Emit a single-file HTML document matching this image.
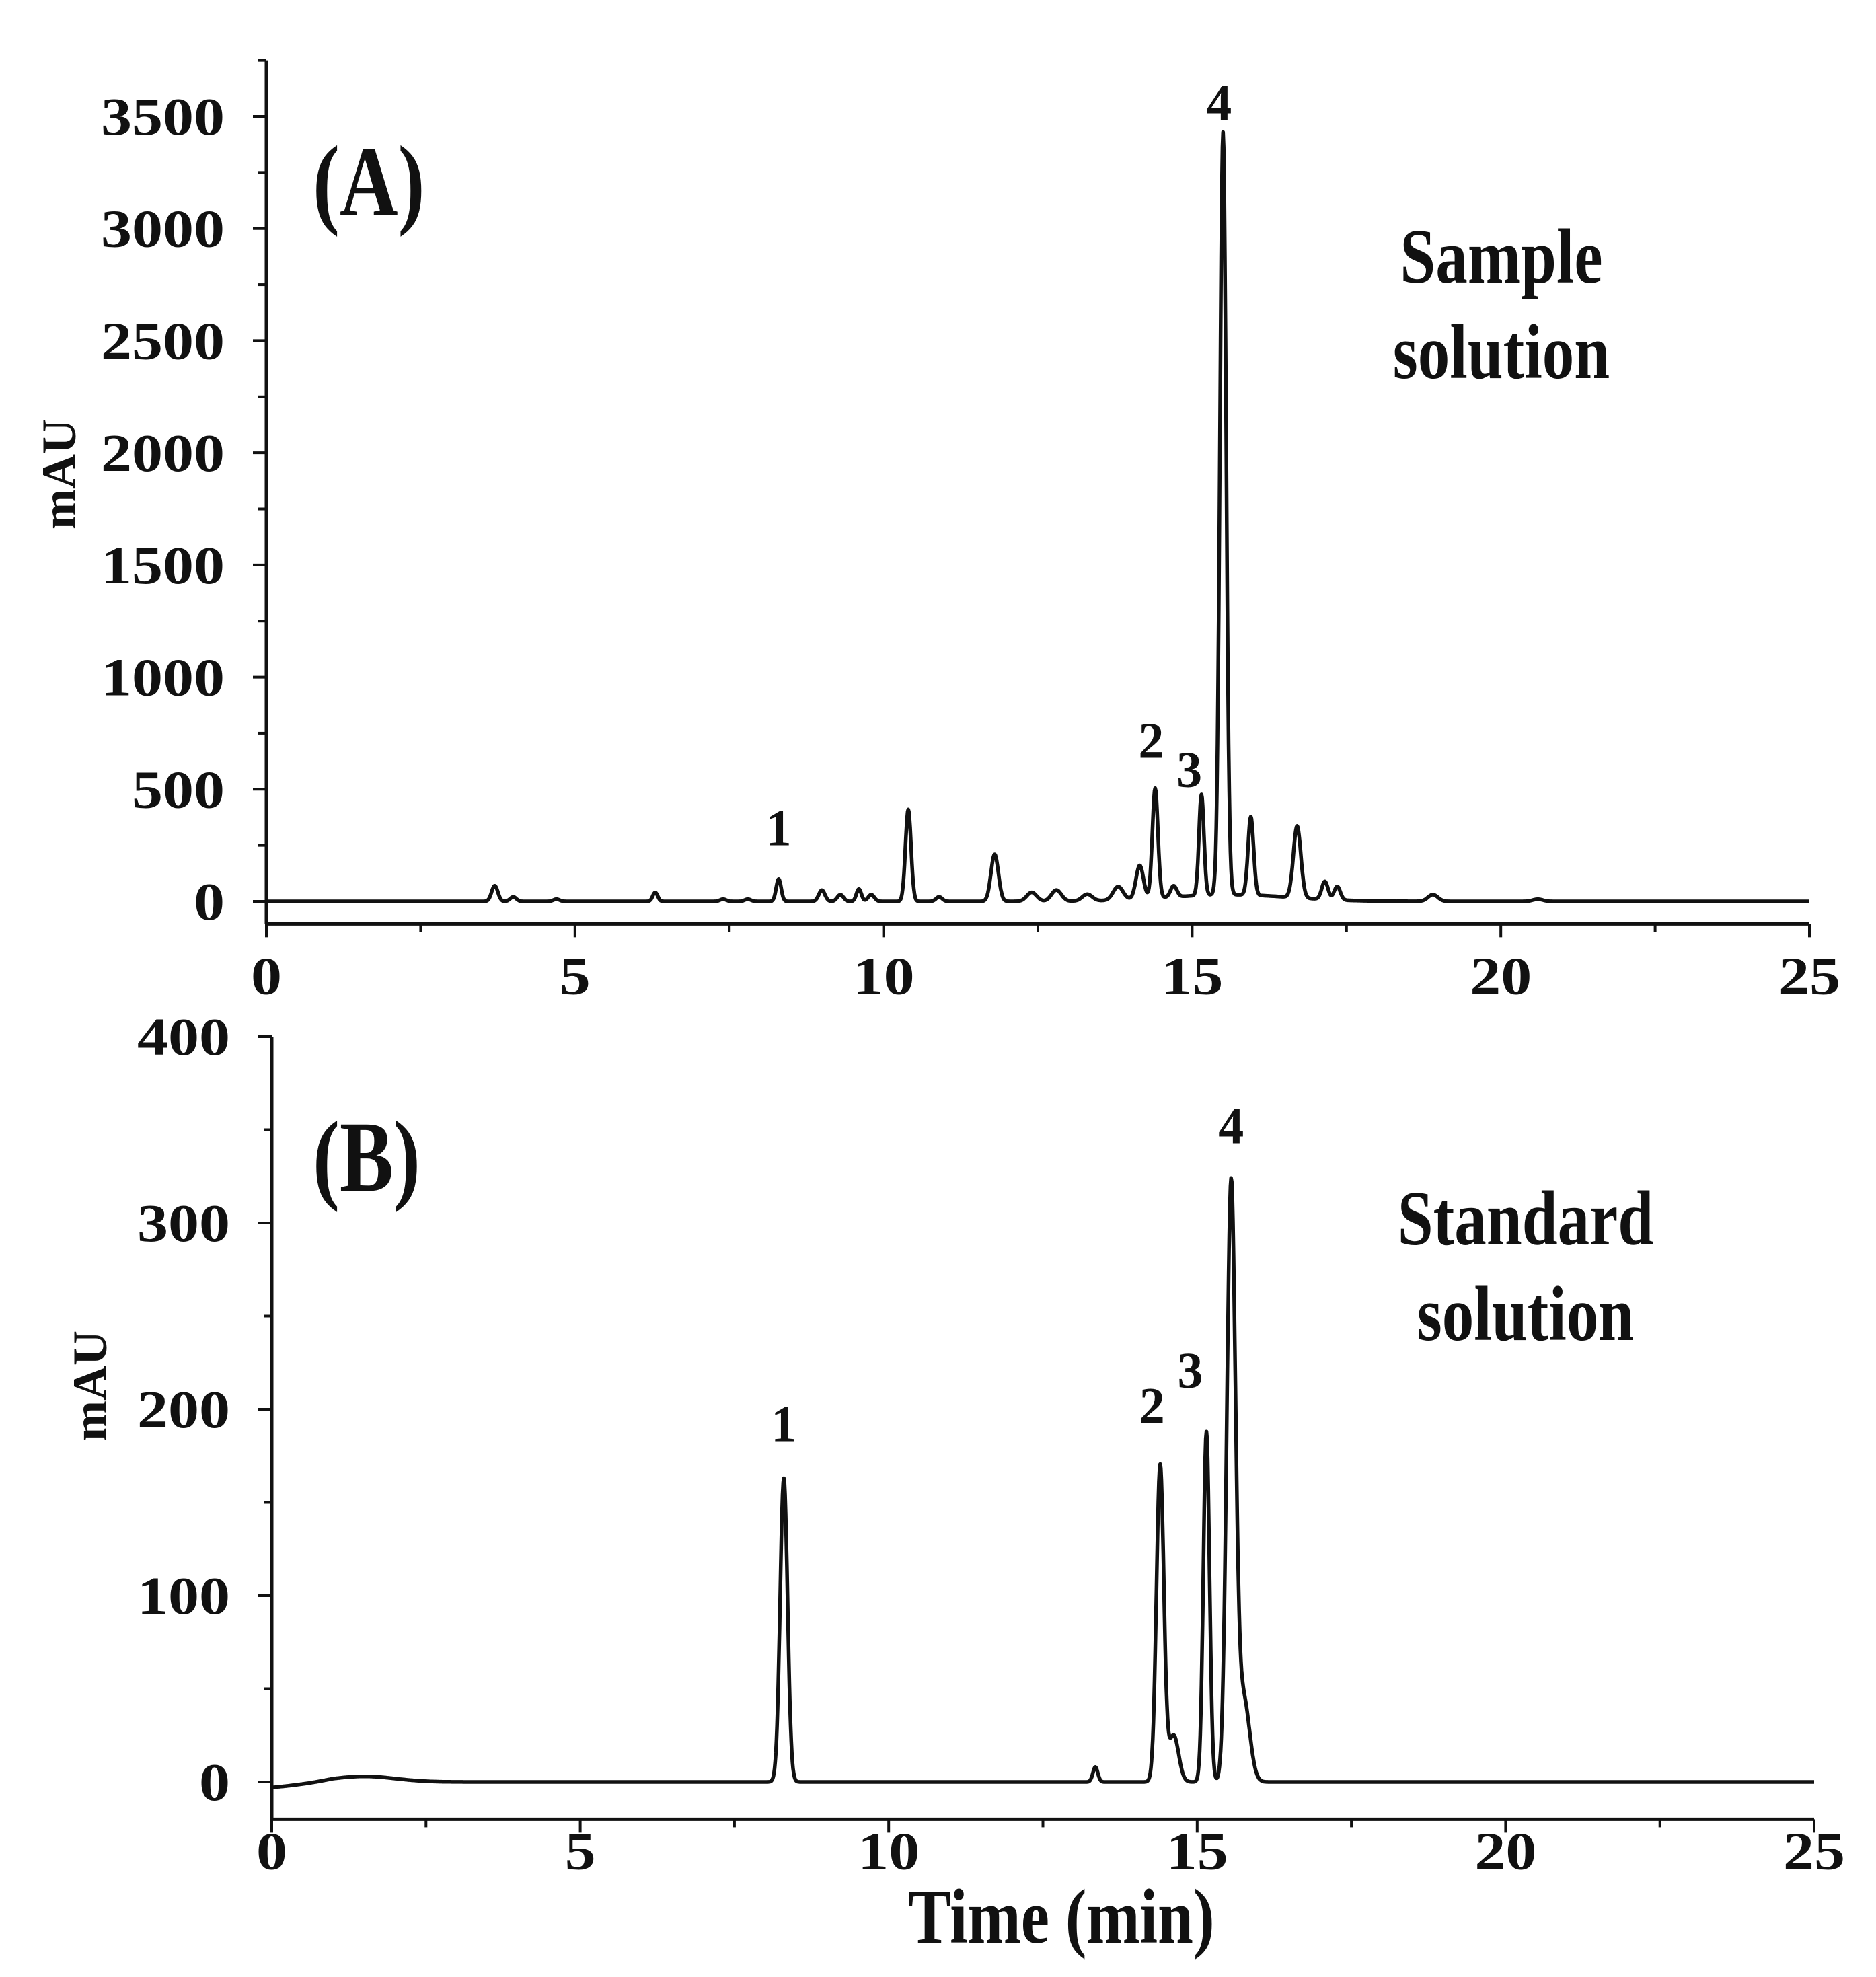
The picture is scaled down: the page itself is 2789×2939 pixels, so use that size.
<!DOCTYPE html>
<html><head><meta charset="utf-8"><style>
body{margin:0;background:#fff}
svg text{font-family:"Liberation Serif",serif;font-weight:bold;fill:#111}
</style></head><body>
<svg id="fig" width="2789" height="2934" viewBox="0 0 2789 2934" xmlns="http://www.w3.org/2000/svg">
<g id="pA"></g>
<g id="pB"></g>
</svg>
<script>
const xTicks=[0,5,10,15,20,25];
const yTicksA=[0,500,1000,1500,2000,2500,3000,3500];
const yTicksB=[0,100,200,300,400];
const peakTimesA=[3.7,4.0,4.7,6.3,7.4,7.8,8.3,9.0,9.3,9.6,9.8,10.4,10.9,11.8,12.4,12.8,13.3,13.8,14.15,14.4,14.7,15.15,15.5,15.95,16.7,17.15,17.35,18.9,20.6,15.6];
const peakHeightsA=[70,20,10,40,10,10,100,50,30,55,30,410,20,210,40,50,30,60,150,490,50,450,3400,350,320,80,60,30,10,30];
const peakWidthsA=[0.05,0.05,0.05,0.04,0.05,0.05,0.04,0.05,0.05,0.04,0.05,0.045,0.05,0.06,0.08,0.08,0.08,0.08,0.06,0.045,0.05,0.04,0.05,0.045,0.06,0.05,0.05,0.08,0.08,1.0];
const peakTimesB=[1.5,8.3,13.35,14.4,14.62,15.15,15.55,15.75];
const peakHeightsB=[3,163,8,170,25,188,318,45];
const peakWidthsB=[0.5,0.06,0.04,0.06,0.08,0.05,0.07,0.1];
const labelsA=[{t:8.3,v:100,s:"1"},{t:14.4,v:490,s:"2"},{t:15.15,v:450,s:"3"},{t:15.5,v:3400,s:"4"}];
const labelsB=[{t:8.3,v:163,s:"1"},{t:14.4,v:173,s:"2"},{t:15.15,v:188,s:"3"},{t:15.55,v:323,s:"4"}];

const NS="http://www.w3.org/2000/svg";
function mk(parent,tag,attrs,text){const e=document.createElementNS(NS,tag);for(const k in attrs)e.setAttribute(k,attrs[k]);if(text!==undefined)e.textContent=text;parent.appendChild(e);return e;}

function panel(g,cfg){
  const X=t=>cfg.x0+(t/25)*(cfg.x25-cfg.x0);
  const Y=v=>cfg.y0-(v-0)/(cfg.yTop)*(cfg.y0-cfg.yTopPx);
  const axisY=Y(cfg.yMin);
  const topY=Y(cfg.yMax);
  let l=mk(g,'line',{x1:X(0),y1:axisY,x2:X(0),y2:topY,stroke:'#111','stroke-width':5});
  
  
  l=mk(g,'line',{x1:X(0)-2,y1:axisY,x2:X(25),y2:axisY,stroke:'#111','stroke-width':5});
  
  
  for(let t=0;t<=25.01;t+=2.5){
    const major=Math.abs(t%5)<0.01;
    const tk=mk(g,'line',{x1:X(t),y1:axisY,x2:X(t),y2:axisY+(major?20:12),stroke:'#111','stroke-width':4});
    
    
  }
  xTicks.forEach(t=>{
    const xx=X(t);
    const tx=mk(g,'text',{x:xx,y:axisY+cfg.xlOff,'text-anchor':'middle','font-size':80,transform:`translate(${xx},0) scale(1.15,1) translate(${-xx},0)`},String(t));
    
    
  });
  for(let v=0;v<=cfg.yMax+0.01;v+=cfg.minor){
    const major=Math.abs(v%cfg.major)<0.01;
    const tk=mk(g,'line',{x1:X(0),y1:Y(v),x2:X(0)-(major?20:12),y2:Y(v),stroke:'#111','stroke-width':4});
    
    
  }
  cfg.yTicks.forEach(v=>{
    const xx=X(0)-62;
    const tx=mk(g,'text',{x:xx,y:Y(v)+27,'text-anchor':'end','font-size':80,transform:`translate(${xx},0) scale(1.15,1) translate(${-xx},0)`},String(v));
    
    
  });
  const yl=mk(g,'text',{x:0,y:0,'text-anchor':'middle','font-size':72,transform:`translate(${cfg.ylx},${cfg.yly}) rotate(-90)`},'mAU');
  
  
  let d='';
  for(let i=0;i<=2500;i++){
    const t=i/100;let v=cfg.base(t);
    for(let k=0;k<cfg.pt.length;k++){const z=(t-cfg.pt[k])/cfg.pw[k];v+=cfg.ph[k]*Math.exp(-0.5*z*z);}
    d+=(i?'L':'M')+X(t).toFixed(1)+' '+Y(v).toFixed(1);
  }
  const p=mk(g,'path',{d:d,fill:'none',stroke:'#111','stroke-width':5.5,'stroke-linejoin':'round'});
  
  
  cfg.labels.forEach(o=>{
    const tx=mk(g,'text',{x:X(o.t)+(o.dx||0),y:Y(o.v)-cfg.lgap+(o.dy||0),'text-anchor':'middle','font-size':76},o.s);
    
    
  });
  const pl=mk(g,'text',{x:cfg.plx,y:cfg.ply,'font-size':150,transform:`translate(${cfg.plx},${cfg.ply}) scale(0.8,1) translate(${-cfg.plx},${-cfg.ply})`},cfg.panel);
  
  
  cfg.desc.forEach((s,i)=>{
    const tx=mk(g,'text',{x:cfg.dx,y:cfg.dy+i*142,'text-anchor':'middle','font-size':116,transform:`translate(${cfg.dx},0) scale(0.82,1) translate(${-cfg.dx},0)`},s);
    
    
  });
}
labelsA[1].dx=-6;labelsA[2].dx=-18;labelsA[2].dy=30;labelsA[3].dx=-6;labelsA[3].dy=22;
labelsB[1].dx=-12;labelsB[2].dx=-24;labelsB[2].dy=-10;
panel(document.getElementById('pA'),{x0:396,x25:2690,y0:1340,yTopPx:173,yTop:3500,yMin:-100,yMax:3750,minor:250,major:500,yTicks:yTicksA,
  pt:peakTimesA,ph:peakHeightsA,pw:peakWidthsA,labels:labelsA,lgap:50,base:t=>0,xlOff:104,
  ylx:112,yly:705,plx:465,ply:320,panel:'(A)',desc:['Sample','solution'],dx:2232,dy:420});
panel(document.getElementById('pB'),{x0:404,x25:2697,y0:2649,yTopPx:1541,yTop:400,yMin:-20,yMax:400,minor:50,major:100,yTicks:yTicksB,
  pt:peakTimesB,ph:peakHeightsB,pw:peakWidthsB,labels:labelsB,lgap:55,base:t=>(t<1?-3+3*t:0),xlOff:74,
  ylx:158,yly:2060,plx:465,ply:1770,panel:'(B)',desc:['Standard','solution'],dx:2268,dy:1850});
const tt=mk(document.getElementById('fig'),'text',{x:1578,y:2888,'text-anchor':'middle','font-size':116,transform:'translate(1578,0) scale(0.82,1) translate(-1578,0)'},'Time (min)');


</script>
</body></html>
